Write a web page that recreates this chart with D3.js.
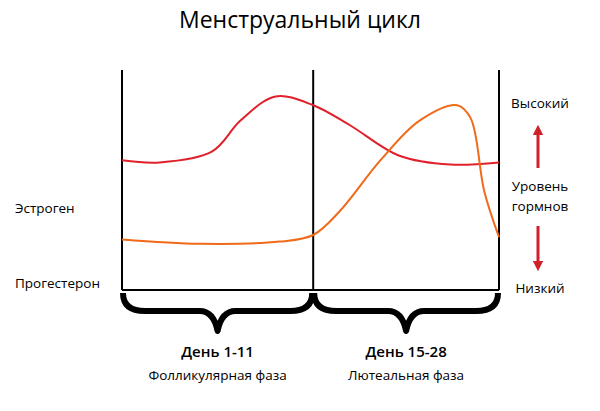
<!DOCTYPE html><html><head><meta charset="utf-8">
<script src="https://cdn.jsdelivr.net/npm/d3@7"></script>
<style>body{margin:0;background:#fff}text{font-family:"Open Sans",sans-serif}</style></head><body>
<svg id="c" width="600" height="411"></svg>
<script>
const estrogenDays=[0,2.8,6.7,8.8,11.4,14.2,16.9,20.6,24.4,28];
const estrogenLevel=[59,58,63,77,88,84,75,61,57,58];
const progDays=[0,5.8,11.7,14.2,16.2,19.2,22.1,24.9,25.9,26.9,28];
const progLevel=[23,21,22,25,36,59,77,84,78,45,24];
const dividerDays=[0,14.2,28];
const phases=[{from:0,to:14.2,l1:"День 1-11",l2:"Фолликулярная фаза"},{from:14.2,to:28,l1:"День 15-28",l2:"Лютеальная фаза"}];

const svg=d3.select("#c");
const x=d3.scaleLinear().domain([0,28]).range([122,499]);
const y=d3.scaleLinear().domain([0,100]).range([290,70]);

svg.append("text").attr("x",300).attr("y",28).attr("text-anchor","middle").attr("font-size",23).text("Менструальный цикл");

svg.selectAll(".v").data(dividerDays).join("line").attr("x1",d=>x(d)).attr("x2",d=>x(d)).attr("y1",y(100)).attr("y2",y(0)).attr("stroke","#000").attr("stroke-width",2);
svg.append("line").attr("x1",x(0)).attr("x2",x(28)).attr("y1",y(0)).attr("y2",y(0)).attr("stroke","#000").attr("stroke-width",2);

const line=d3.line().curve(d3.curveCatmullRom.alpha(0.5));
svg.append("path").attr("d",line(estrogenDays.map((d,i)=>[x(d),y(estrogenLevel[i])]))).attr("fill","none").attr("stroke","#e0202a").attr("stroke-width",2);
svg.append("path").attr("d",line(progDays.map((d,i)=>[x(d),y(progLevel[i])]))).attr("fill","none").attr("stroke","#f06a1a").attr("stroke-width",2);

phases.forEach(p=>{
  const a=x(p.from)+1,b=x(p.to)-1,m=(a+b)/2,t=y(0)+3;
  const d=`M${a},${t} Q${a},${t+18} ${a+22},${t+18} L${m-18},${t+18} Q${m-4},${t+18} ${m},${t+38} Q${m+4},${t+18} ${m+18},${t+18} L${b-22},${t+18} Q${b},${t+18} ${b},${t}`;
  svg.append("path").attr("d",d).attr("fill","none").attr("stroke","#000").attr("stroke-width",6).attr("stroke-linejoin","round");
  svg.append("text").attr("x",m).attr("y",357).attr("text-anchor","middle").attr("font-size",15).attr("font-weight",600).text(p.l1);
  svg.append("text").attr("x",m).attr("y",380).attr("text-anchor","middle").attr("font-size",13.5).text(p.l2);
});

svg.append("text").attr("x",15).attr("y",213).attr("font-size",13.5).text("Эстроген");
svg.append("text").attr("x",15).attr("y",288).attr("font-size",13.5).text("Прогестерон");
const rt=[["Высокий",108],["Уровень",191],["гормнов",211],["Низкий",293]];
svg.selectAll(".r").data(rt).join("text").attr("x",540).attr("y",d=>d[1]).attr("text-anchor","middle").attr("font-size",13.5).text(d=>d[0]);
svg.append("defs").append("marker").attr("id","ah").attr("viewBox","0 0 10 10").attr("refX",5).attr("refY",5).attr("markerWidth",3.5).attr("markerHeight",3.5).attr("orient","auto").append("path").attr("d","M0,0L10,5L0,10Z").attr("fill","#d0202a");
svg.append("line").attr("x1",538).attr("x2",538).attr("y1",168).attr("y2",130).attr("stroke","#d0202a").attr("stroke-width",3).attr("marker-end","url(#ah)");
svg.append("line").attr("x1",538).attr("x2",538).attr("y1",226).attr("y2",266).attr("stroke","#d0202a").attr("stroke-width",3).attr("marker-end","url(#ah)");
</script></body></html>
